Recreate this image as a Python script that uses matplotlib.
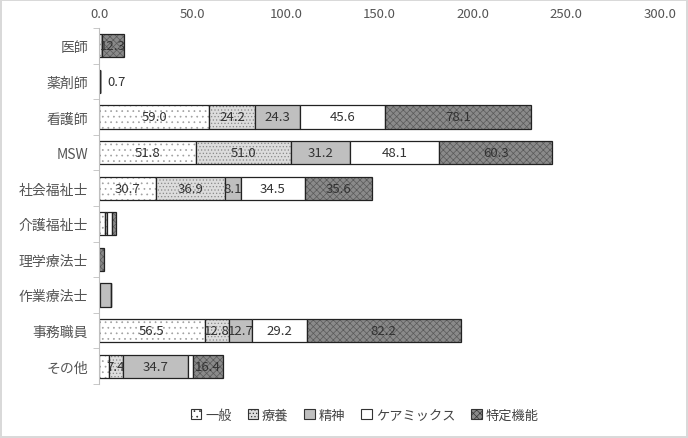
import numpy as np
import matplotlib.pyplot as plt

plt.rcParams['font.family'] = ['Noto Sans CJK JP', 'DejaVu Sans']
plt.rcParams['hatch.linewidth'] = 0.5

categories = ['医師', '薬剤師', '看護師', 'MSW', '社会福祉士', '介護福祉士',
              '理学療法士', '作業療法士', '事務職員', 'その他']
series = ['一般', '療養', '精神', 'ケアミックス', '特定機能']

ippan = [1.3, 0.7, 59.0, 51.8, 30.7, 3.0, 0.0, 0.5, 56.5, 5.3]
ryoyo = [0.0, 0.0, 24.2, 51.0, 36.9, 1.5, 0.0, 0.0, 12.8, 7.4]
seishin = [0.0, 0.0, 24.3, 31.2, 8.1, 0.0, 0.0, 5.8, 12.7, 34.7]
caremix = [0.0, 0.0, 45.6, 48.1, 34.5, 2.5, 0.0, 0.0, 29.2, 2.6]
tokutei = [12.3, 0.0, 78.1, 60.3, 35.6, 2.0, 2.7, 0.0, 82.2, 16.4]

xticks = [0, 50, 100, 150, 200, 250, 300]

# 見た目 (face, hatch, hatch色)
styles = [('white', '...', '#a0a0a0'),
          ('#dcdcdc', '.....', '#8a8a8a'),
          ('#bfbfbf', '', '#bfbfbf'),
          ('white', '', 'white'),
          ('#8a8a8a', 'xxxxx', '#5a5a5a')]

fig = plt.figure(figsize=(6.88, 4.39), dpi=100)
fig.patch.set_edgecolor('#d9d9d9')
fig.patch.set_linewidth(1.5)
ax = fig.add_axes([0.144, 0.123, 0.815, 0.811])

data = [ippan, ryoyo, seishin, caremix, tokutei]
y = np.arange(len(categories))
left = np.zeros(len(categories))
handles = []
for name, vals, (fc, ht, hc) in zip(series, data, styles):
    vals = np.array(vals)
    h = ax.barh(y, vals, left=left, height=0.65, color=fc, hatch=ht,
                edgecolor=hc, linewidth=0, label=name)
    ax.barh(y, vals, left=left, height=0.65, fill=False,
            edgecolor='#222222', linewidth=0.9)
    handles.append(h)
    for i, v in enumerate(vals):
        if v >= 7:
            ax.text(left[i] + v / 2, y[i], f'{v:.1f}', ha='center',
                    va='center', fontsize=9.5, color='#333333')
    left += vals

# 合計がごく小さい行は右側に値を表示
for i, tot in enumerate(left):
    if 0 < tot < 1:
        ax.text(tot + 4, y[i], f'{tot:.1f}', ha='left', va='center',
                fontsize=9.5, color='#333333')

ax.set_xlim(0, 300)
ax.set_ylim(len(categories) - 0.5, -0.5)
ax.set_xticks(xticks)
ax.set_xticklabels([f'{t:.1f}' for t in xticks], fontsize=9.5, color='#555555')
ax.xaxis.tick_top()
ax.tick_params(axis='x', length=0, pad=6)
ax.set_yticks(y)
ax.set_yticklabels(categories, fontsize=10, color='#555555')
ax.set_yticks(np.arange(len(categories) + 1) - 0.5, minor=True)
ax.tick_params(axis='y', which='major', length=0, pad=8)
ax.tick_params(axis='y', which='minor', length=4, color='#bfbfbf')
for s in ['top', 'right', 'bottom']:
    ax.spines[s].set_visible(False)
ax.spines['left'].set_color('#bfbfbf')

leg = fig.legend(handles=handles, labels=series, loc='lower center',
                 bbox_to_anchor=(0.53, 0.01), ncol=5, frameon=False,
                 fontsize=9.5, handlelength=0.8, handleheight=0.8,
                 handletextpad=0.3, columnspacing=1.2)
for p in leg.get_patches():
    p.set_linewidth(0.8)
    p.set_edgecolor('#333333')
for t in leg.get_texts():
    t.set_color('#444444')

fig.savefig('out.png', dpi=100)
